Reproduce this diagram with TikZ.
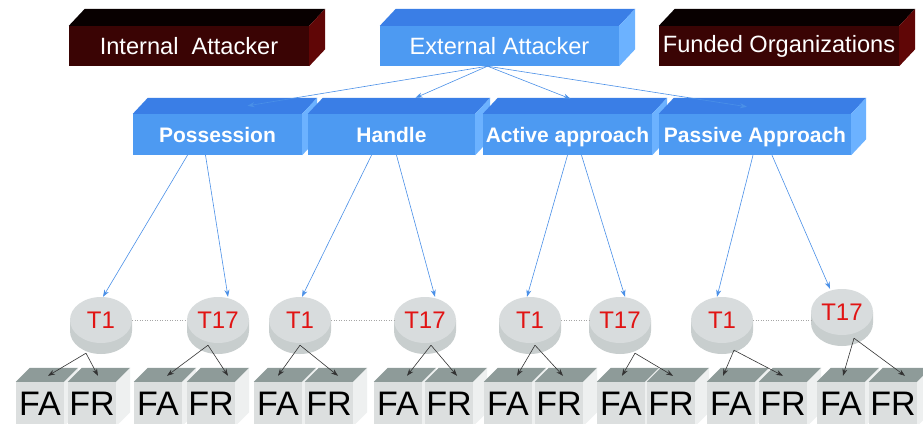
\documentclass[tikz,border=0pt]{standalone}
\usepackage{fontspec}
\setmainfont{Liberation Sans}
\usetikzlibrary{arrows.meta,shapes.geometric}

\definecolor{attkfront}{RGB}{58,4,4}
\definecolor{attktop}{RGB}{8,0,0}
\definecolor{attkside}{RGB}{96,6,6}
\definecolor{bluefront}{RGB}{77,154,242}
\definecolor{bluetop}{RGB}{58,126,230}
\definecolor{blueside}{RGB}{108,178,255}
\definecolor{arrowblue}{RGB}{74,144,232}
\definecolor{cubefront}{RGB}{220,223,223}
\definecolor{cubetop}{RGB}{142,155,153}
\definecolor{cubeside}{RGB}{238,240,240}
\definecolor{cyltop}{RGB}{216,220,221}
\definecolor{cylside}{RGB}{200,206,206}
\definecolor{tred}{RGB}{225,20,20}

% top and side face of a box drawn as a node
\newcommand{\boxfaces}[5]{%
  \fill[#4] (#1.north west) -- ++(#2,-#3) -- ([shift={(#2,-#3)}]#1.north east) -- (#1.north east) -- cycle;
  \fill[#5] (#1.north east) -- ++(#2,-#3) -- ([shift={(#2,-#3)}]#1.south east) -- (#1.south east) -- cycle;
}

\tikzset{
  attk/.style={rectangle, fill=attkfront, text=white, inner sep=0pt,
    minimum width=240pt, minimum height=40pt, font=\fontsize{23.6}{24}\selectfont},
  extattk/.style={attk, fill=bluefront, minimum width=239pt},
  phase/.style={rectangle, fill=bluefront, text=white, inner sep=0pt,
    minimum height=41pt, text height=15pt, text depth=0pt,
    font=\bfseries\fontsize{21}{21}\selectfont},
  tnode/.style={ellipse, fill=cyltop, text=tred, inner sep=0pt,
    minimum width=62pt, minimum height=46pt, font=\fontsize{24}{24}\selectfont},
  cube/.style={rectangle, fill=cubefront, inner sep=0pt,
    minimum width=48pt, minimum height=44pt, font=\fontsize{34}{34}\selectfont},
  bluearrow/.style={draw=arrowblue, line width=0.6pt, -{Stealth[length=7pt,width=5pt]}},
  blkarrow/.style={draw=black!80, line width=0.6pt, -{Stealth[length=7pt,width=5pt]}},
  dotline/.style={draw=black!35, dotted, line width=0.5pt},
}

\begin{document}
\begin{tikzpicture}[x=1pt, y=-1pt]
  \useasboundingbox[fill=white] (0,0) rectangle (923,423);

  % attackers
  \node[attk] (internal) at (189,46) {Internal\ \ Attacker};
  \boxfaces{internal}{16}{17}{attktop}{attkside}
  \node[extattk] (external) at (499.5,46) {External Attacker};
  \boxfaces{external}{16}{17}{bluetop}{blueside}
  \node[attk] (funded) at (779,46) {Funded Organizations};
  \boxfaces{funded}{16}{17}{attktop}{attkside}

  % ways of attack
  \node[phase, minimum width=169pt] (poss) at (217.5,134.5) {Possession};
  \boxfaces{poss}{15}{16}{bluetop}{blueside}
  \node[phase, minimum width=167pt] (handle) at (391.5,134.5) {Handle};
  \boxfaces{handle}{15}{16}{bluetop}{blueside}
  \node[phase, minimum width=169pt] (active) at (567.5,134.5) {Active approach};
  \boxfaces{active}{15}{16}{bluetop}{blueside}
  \node[phase, minimum width=192pt] (passive) at (755,134.5) {Passive Approach};
  \boxfaces{passive}{15}{16}{bluetop}{blueside}

  % FA / FR blocks
  \foreach \i/\a/\r in {1/40/92, 2/158/211, 3/278/329, 4/398/449,
                        5/508/559, 6/621/671, 7/731/783, 8/841/893} {
    \node[cube] (fa\i) at (\a,404) {FA};
    \boxfaces{fa\i}{14}{14}{cubetop}{cubeside}
    \node[cube] (fr\i) at (\r,404) {FR};
    \boxfaces{fr\i}{14}{14}{cubetop}{cubeside}
  }

  % T1 ... T17 discs
  \foreach \n/\x/\y/\t in {t1a/101/320/T1, t17a/218/320/T17, t1b/300/320/T1, t17b/425/320/T17,
                           t1c/530/320/T1, t17c/620/320/T17, t1d/722/320/T1, t17d/842/312/T17} {
    \fill[cylside] (\x-31,\y) -- (\x-31,\y+11) arc[start angle=180, end angle=0, x radius=31, y radius=23] -- (\x+31,\y) -- cycle;
    \node[tnode] (\n) at (\x,\y) {\t};
  }

  \draw[dotline] (t1a) -- (t17a);
  \draw[dotline] (t1b) -- (t17b);
  \draw[dotline] (t1c) -- (t17c);
  \draw[dotline] (t1d.east) -- (t1d.east -| t17d.west);

  % external attacker to ways of attack
  \draw[bluearrow] ([xshift=-12]external.south) -- ([shift={(30,-8)}]poss.north);
  \draw[bluearrow] ([xshift=-12]external.south) -- ([shift={(24,-16)}]handle.north);
  \draw[bluearrow] ([xshift=-12]external.south) -- ([shift={(3,-15)}]active.north);
  \draw[bluearrow] ([xshift=-12]external.south) -- ([shift={(-8,-7)}]passive.north);

  % ways of attack to T discs
  \draw[bluearrow] ([xshift=-30]poss.south) -- ([xshift=2]t1a.north);
  \draw[bluearrow] ([xshift=-12]poss.south) -- ([xshift=10]t17a.north);
  \draw[bluearrow] ([xshift=-20]handle.south) -- ([xshift=2]t1b.north);
  \draw[bluearrow] ([xshift=5]handle.south) -- ([xshift=10]t17b.north);
  \draw[bluearrow] ([xshift=0]active.south) -- ([xshift=-3]t1c.north);
  \draw[bluearrow] ([xshift=14]active.south) -- ([xshift=5]t17c.north);
  \draw[bluearrow] ([xshift=-2]passive.south) -- ([xshift=-5]t1d.north);
  \draw[bluearrow] ([xshift=17]passive.south) -- ([xshift=-12]t17d.north);

  % T discs to FA / FR
  \foreach \n/\sx/\sy/\i/\fa/\fr in {t1a/-15/10/1/8/6, t17a/-10/2/2/9/17, t1b/0/2/3/0/9,
                                      t17b/6/2/4/9/8, t1c/5/2/5/9/4, t17c/15/10/6/1/2,
                                      t1d/12/7/7/-8/0, t17d/12/3/8/2/12} {
    \draw[blkarrow] ([shift={(\sx,\sy)}]\n.south) -- ([shift={(\fa,-6)}]fa\i.north);
    \draw[blkarrow] ([shift={(\sx,\sy)}]\n.south) -- ([shift={(\fr,-6)}]fr\i.north);
  }
\end{tikzpicture}
\end{document}
